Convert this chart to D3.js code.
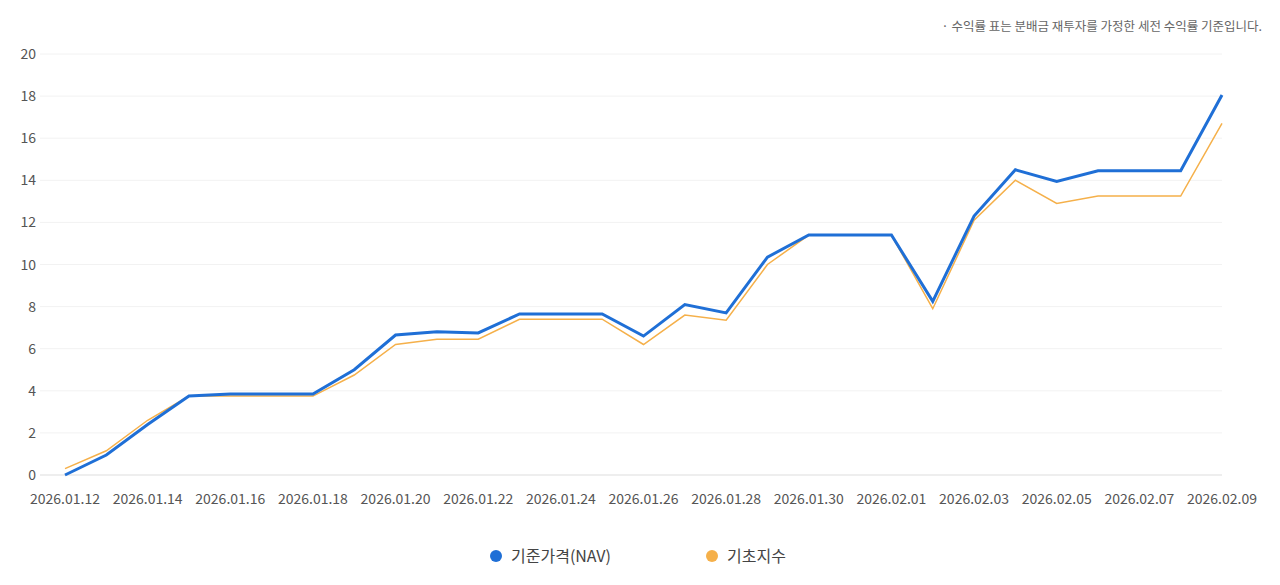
<!DOCTYPE html>
<html><head><meta charset="utf-8">
<script src="https://cdn.jsdelivr.net/npm/d3@7/dist/d3.min.js"></script>
<style>body{margin:0;background:#fff;font-family:"Noto Sans CJK KR","Noto Sans",sans-serif;}</style>
</head><body><svg id="c" width="1280" height="585"></svg>
<script>
const dates=["2026.01.12","2026.01.13","2026.01.14","2026.01.15","2026.01.16","2026.01.17","2026.01.18","2026.01.19","2026.01.20","2026.01.21","2026.01.22","2026.01.23","2026.01.24","2026.01.25","2026.01.26","2026.01.27","2026.01.28","2026.01.29","2026.01.30","2026.01.31","2026.02.01","2026.02.02","2026.02.03","2026.02.04","2026.02.05","2026.02.06","2026.02.07","2026.02.08","2026.02.09"];
const nav=[0,0.95,2.4,3.75,3.85,3.85,3.85,5.0,6.65,6.8,6.75,7.65,7.65,7.65,6.6,8.1,7.7,10.35,11.4,11.4,11.4,8.25,12.3,14.5,13.95,14.45,14.45,14.45,18.05];
const idx=[0.3,1.15,2.6,3.75,3.75,3.75,3.75,4.75,6.2,6.45,6.45,7.4,7.4,7.4,6.2,7.6,7.35,10.0,11.4,11.4,11.4,7.9,12.1,14.0,12.9,13.25,13.25,13.25,16.7];
const yTicks=[0,2,4,6,8,10,12,14,16,18,20];
const svg=d3.select("#c");
const x=d3.scalePoint().domain(dates).range([65,1222]);
const y=d3.scaleLinear().domain([0,20]).range([475,54]);
svg.append("g").selectAll("line").data(yTicks).join("line")
 .attr("x1",40).attr("x2",1222).attr("y1",d=>y(d)).attr("y2",d=>y(d))
 .attr("stroke",d=>d===0?"#ddd":"#f2f2f2");
svg.append("g").selectAll("text").data(yTicks).join("text")
 .attr("x",36).attr("y",d=>y(d)+5).attr("text-anchor","end").attr("font-size",14).attr("fill","#555").text(d=>d);
svg.append("g").selectAll("text").data(dates.filter((d,i)=>i%2===0)).join("text")
 .attr("x",d=>x(d)).attr("y",504).attr("text-anchor","middle").attr("font-size",14).attr("fill","#555").text(d=>d);
const line=d3.line().x((d,i)=>x(dates[i])).y(d=>y(d));
svg.append("path").datum(idx).attr("d",line).attr("fill","none").attr("stroke","#f5b04a").attr("stroke-width",1.5);
svg.append("path").datum(nav).attr("d",line).attr("fill","none").attr("stroke","#1f6fd6").attr("stroke-width",3);
svg.append("text").attr("x",1262).attr("y",31).attr("text-anchor","end").attr("font-size",12.5).attr("fill","#666").text("·  수익률 표는 분배금 재투자를 가정한 세전 수익률 기준입니다.");
const leg=[["기준가격(NAV)","#1f6fd6",496],["기초지수","#f5b04a",712]];
leg.forEach(([t,c,lx])=>{
 svg.append("circle").attr("cx",lx).attr("cy",556).attr("r",6).attr("fill",c);
 svg.append("text").attr("x",lx+15).attr("y",562).attr("font-size",16).attr("fill","#444").text(t);
});
</script></body></html>
